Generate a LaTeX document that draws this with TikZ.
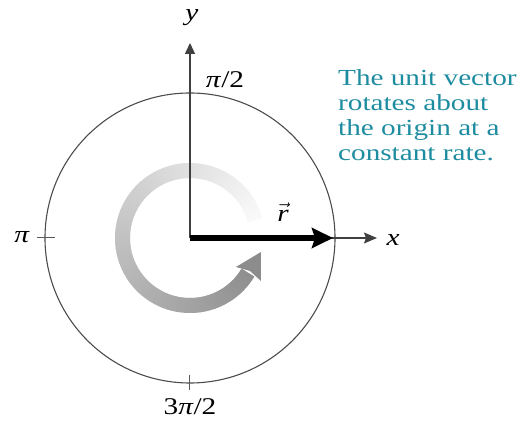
\documentclass[tikz,border=0pt]{standalone}
\usepackage{fontspec}
\setmainfont{Liberation Serif}
\newfontfamily\labfont{Liberation Serif}[FakeStretch=1.22]
\newfontfamily\notefont{Liberation Serif}[FakeStretch=1.27]
\usetikzlibrary{arrows.meta,calc}
\definecolor{tealtext}{RGB}{30,140,160}
\begin{document}
\begin{tikzpicture}[x=1pt,y=1pt,
  lbl/.style={font=\labfont\fontsize{24}{26}\selectfont, inner sep=0pt},
  note/.style={font=\notefont\fontsize{23}{25}\selectfont, text=tealtext, inner sep=0pt, anchor=base west},
  axisline/.style={line width=1.5pt, draw=black!75},
  tickline/.style={line width=1pt, draw=black!65}]
\useasboundingbox (-190,-184) rectangle (330,238);
\coordinate (O) at (0,0);
% rotating grey arrow with gradient
\foreach \a in {15,16.5,...,328}{
  \pgfmathsetmacro\p{2+42*(\a-15)/313}
  \draw[line width=15pt, draw=black!\p] (\a:67.5) arc[start angle=\a, end angle=\a+2.2, radius=67.5];
}
\fill[black!45] (46,-29) -- (71,-14) -- (71,-43) -- (60,-33) -- cycle;
% unit circle
\node[circle, draw=black!70, line width=1.1pt, minimum size=290pt, inner sep=0pt, outer sep=0pt] (C) at (O) {};
\draw[tickline] ([xshift=-8pt]C.west) -- ([xshift=10pt]C.west);
\draw[tickline] ([yshift=8pt]C.south) -- ([yshift=-7pt]C.south);
% axes
\coordinate (ytip) at (0,195);
\coordinate (xtip) at (187,0);
\coordinate (rtip) at (143,0);
\draw[axisline, -{Triangle[length=11pt,width=10pt]}] (O) -- (ytip);
\draw[line width=1.2pt, draw=black!75, -{Stealth[length=13pt,width=11pt,inset=2pt]}] (O) -- (xtip);
\draw[line width=5.5pt, draw=black, -{Stealth[length=21pt,width=20pt,inset=3pt]}] (O) -- (rtip);
% labels
\node[lbl] (ylab) at (2,220) {\textit{y}};
\node[lbl] (halfpi) at (35,158) {\textit{π}/2};
\node[lbl] (pilab) at (-168,1) {\textit{π}};
\node[lbl] (tpilab) at (0,-169) {3\textit{π}/2};
\node[lbl] (xlab) at (203,-2) {\textit{x}};
\node[lbl] (rlab) at (93,26) {$\vec{\textit{r}}$};
% note
\node[note] (n1) at (148,152) {The unit vector};
\node[note] (n2) at (148,127) {rotates about};
\node[note] (n3) at (148,102) {the origin at a};
\node[note] (n4) at (148,77) {constant rate.};
\end{tikzpicture}
\end{document}
